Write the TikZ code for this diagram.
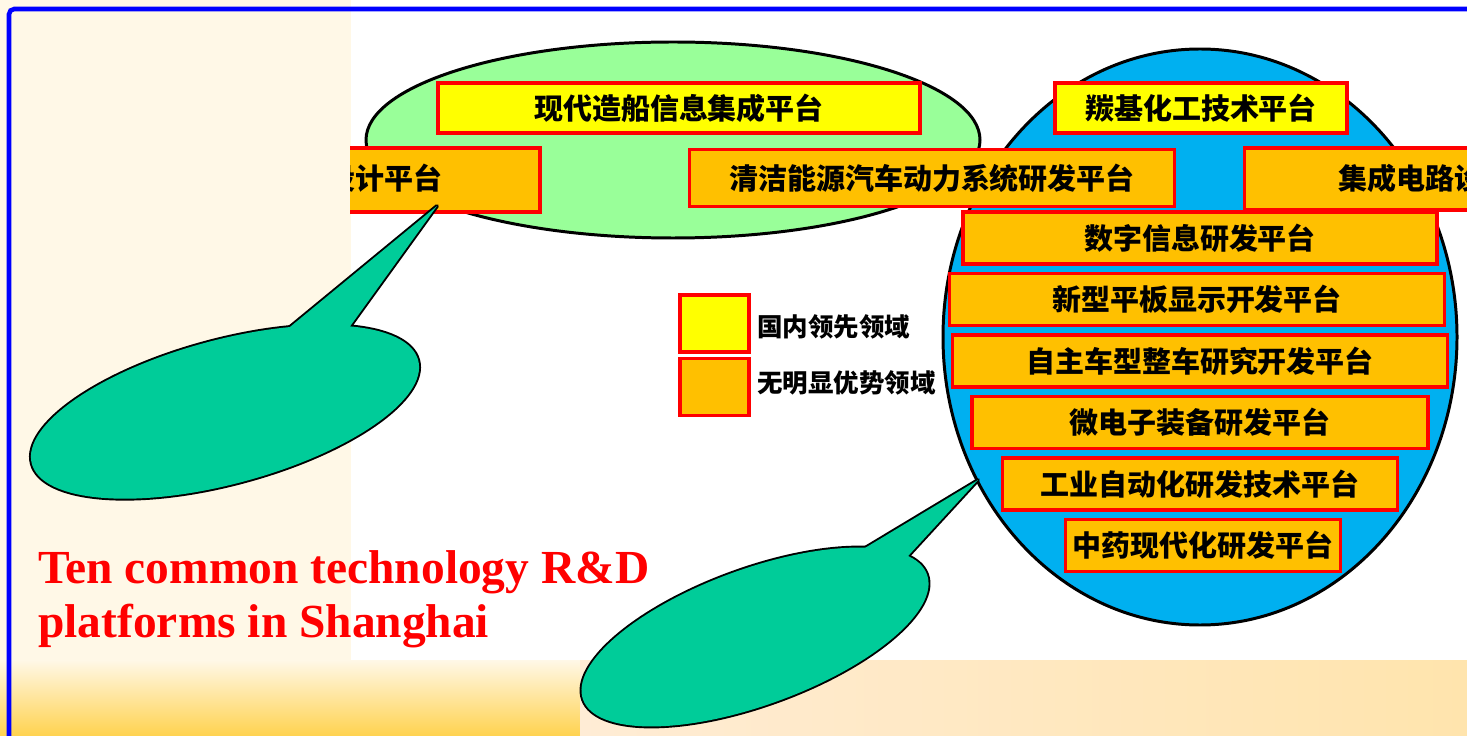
\documentclass[tikz,border=0pt]{standalone}
\usepackage{fontspec}
\setmainfont{Liberation Serif}
\newfontfamily\cjk{Noto Sans CJK SC}
\usetikzlibrary{shapes.geometric}
\definecolor{leafgreen}{HTML}{99FF99}
\definecolor{skyblue}{HTML}{00B0F0}
\definecolor{gold}{HTML}{FFC000}
\definecolor{lemon}{HTML}{FFFF00}
\definecolor{mint}{HTML}{00CC99}
\definecolor{cream}{HTML}{FFF8E7}
\definecolor{peach}{HTML}{FFECD5}
\definecolor{amber}{HTML}{FFD24F}
\tikzstyle{leadbox} = [rectangle, draw=red, line width=2.2pt, fill=lemon,
    minimum height=1cm, inner sep=0pt,
    font={\cjk\bfseries\fontsize{16.5pt}{18pt}\selectfont}]
\tikzstyle{restbox} = [leadbox, fill=gold, minimum height=1.04cm]
\tikzstyle{chiptext} = [inner sep=0pt, font={\cjk\bfseries\fontsize{16.5pt}{18pt}\selectfont}]
\tikzstyle{keybox} = [rectangle, draw=red, line width=2.2pt,
    minimum width=1.38cm, minimum height=1.14cm]
\tikzstyle{keytext} = [anchor=west, inner sep=0pt,
    font={\cjk\bfseries\fontsize{14.5pt}{16pt}\selectfont}]
\tikzstyle{zone} = [draw=black, line width=1.7pt]
\tikzstyle{bubline} = [draw=black, line width=2.2pt, line join=round]

\begin{document}
\begin{tikzpicture}[x=0.02cm, y=-0.02cm, node distance=1.23cm]
  \useasboundingbox (0,0) rectangle (1467,736);
  % backdrop
  \fill[white] (0,0) rectangle (1467,736);
  \fill[cream] (0,0) rectangle (351,660);
  \shade[top color=cream, bottom color=amber] (0,660) rectangle (580,736);
  \shade[left color=peach, right color=peach!70!amber] (580,660) rectangle (1467,736);
  \draw[blue, line width=2.6pt, rounded corners=3pt] (9,736) -- (9,9) -- (1467,9);

  % the two fields
  \draw[zone, fill=leafgreen] (673,140) ellipse (307 and 98);
  \draw[zone, fill=skyblue] (1200,337) ellipse (257 and 288);

  % leading platforms
  \node[leadbox, minimum width=9.64cm] (ship) at (679,108) {现代造船信息集成平台};
  \node[leadbox, minimum width=5.84cm] (carbonyl) at (1201,108) {羰基化工技术平台};

  % the other platforms
  \node[restbox, minimum width=9.48cm] (digital) at (1200,238) {数字信息研发平台};
  \node[restbox, minimum width=9.9cm, below of=digital, xshift=-0.06cm] (display) {新型平板显示开发平台};
  \node[restbox, minimum width=9.9cm, below of=display, xshift=0.06cm] (vehicle) {自主车型整车研究开发平台};
  \node[restbox, minimum width=9.12cm, below of=vehicle] (micro) {微电子装备研发平台};
  \node[restbox, minimum width=7.9cm, below of=micro] (autom) {工业自动化研发技术平台};
  \node[restbox, minimum width=5.5cm, below of=autom, xshift=0.06cm] (herbal) {中药现代化研发平台};

  % shifted band
  \begin{scope}
    \clip (350,120) rectangle (1467,216);
    \node[restbox, minimum width=4.8cm, minimum height=1.28cm] (chipleft) at (420,180) {};
    \node[chiptext, anchor=east] (chiplefttext) at (443,178) {集成电路设计平台};
    \node[restbox, minimum width=5.3cm, minimum height=1.24cm] (chipright) at (1377,179) {};
    \node[chiptext, anchor=west] (chiprighttext) at (1338,178) {集成电路设计平台};
  \end{scope}
  \node[restbox, minimum width=9.7cm, minimum height=1.14cm] (clean) at (932,178) {清洁能源汽车动力系统研发平台};

  % legend
  \node[keybox, fill=lemon] (keylead) at (714.5,323.5) {};
  \node[keybox, fill=gold, below of=keylead, node distance=1.27cm] (keyrest) {};
  \node[keytext] (keyleadtext) at (757,327) {国内领先领域};
  \node[keytext] (keyresttext) at (757,383) {无明显优势领域};

  % speech bubbles: outline first, fill on top
  \coordinate (talkA) at (225,412);
  \coordinate (tipA) at (437,206);
  \coordinate (talkB) at (755,637);
  \coordinate (tipB) at (978,480);
  \draw[bubline, rotate around={15:(talkA)}] (talkA) ellipse (200 and 72);
  \draw[bubline] (279,336) -- (tipA) -- (346,332) -- cycle;
  \fill[mint, rotate around={15:(talkA)}] (talkA) ellipse (200 and 72);
  \fill[mint] (279,336) -- (tipA) -- (346,332) -- cycle;
  \draw[bubline, rotate around={20:(talkB)}] (talkB) ellipse (183 and 68);
  \draw[bubline] (850,557) -- (tipB) -- (898,567) -- cycle;
  \fill[mint, rotate around={20:(talkB)}] (talkB) ellipse (183 and 68);
  \fill[mint] (850,557) -- (tipB) -- (898,567) -- cycle;

  % caption
  \node[anchor=north west, align=left, inner sep=0pt, text=red,
    font=\bfseries\fontsize{27pt}{31pt}\selectfont] (title) at (38,550)
    {Ten common technology R\&D\\platforms in Shanghai};
\end{tikzpicture}
\end{document}
